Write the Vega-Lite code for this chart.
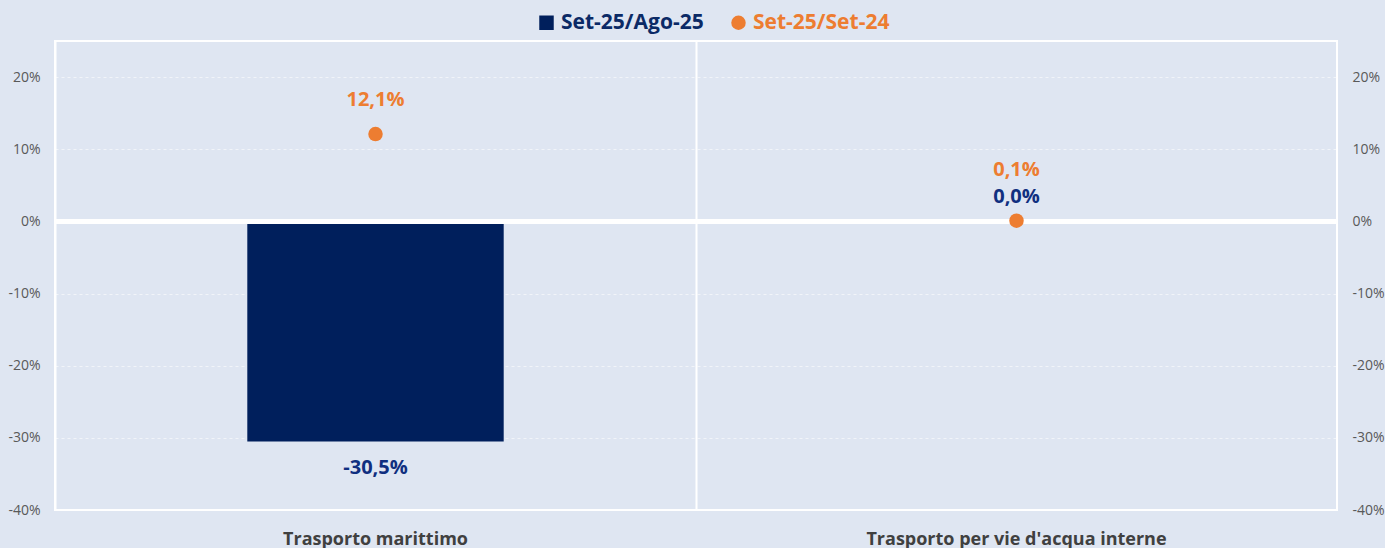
{
  "$schema": "https://vega.github.io/schema/vega-lite/v6.json",
  "width": 1282,
  "height": 469,
  "autosize": {"type": "none"},
  "padding": {"left": 55, "top": 41, "right": 48, "bottom": 38},
  "background": "#DFE6F2",
  "config": {
    "locale": {"number": {"decimal": ",", "thousands": ".", "grouping": [3], "currency": ["", " €"], "minus": "-"}},
    "view": {"fill": "#DFE6F2", "stroke": "#FFFFFF", "strokeWidth": 2},
    "font": "Open Sans"
  },
  "data": {
    "values": [
      {"cat": "Trasporto marittimo", "series": "Set-25/Ago-25", "value": -0.305},
      {"cat": "Trasporto per vie d'acqua interne", "series": "Set-25/Ago-25", "value": 0.0},
      {"cat": "Trasporto marittimo", "series": "Set-25/Set-24", "value": 0.121},
      {"cat": "Trasporto per vie d'acqua interne", "series": "Set-25/Set-24", "value": 0.001}
    ]
  },
  "encoding": {
    "x": {
      "field": "cat", "type": "nominal", "sort": null,
      "scale": {"paddingInner": 0, "paddingOuter": 0},
      "axis": {
        "title": null, "labelAngle": 0, "domain": false, "ticks": false,
        "labelFontSize": 18, "labelFontWeight": "bold", "labelColor": "#404040",
        "labelPadding": 20, "labelFont": "Open Sans", "labelLimit": 0,
        "grid": true, "bandPosition": 0, "gridColor": "#FFFFFF", "gridWidth": 2, "gridOpacity": 1
      }
    }
  },
  "layer": [
    {
      "transform": [{"filter": "datum.series === 'Set-25/Ago-25'"}],
      "mark": {"type": "bar", "width": {"band": 0.4}},
      "encoding": {
        "y": {
          "field": "value", "type": "quantitative",
          "scale": {"domain": [-0.4, 0.25], "nice": false, "zero": false},
          "axis": {
            "title": null, "format": ".0%", "values": [-0.4, -0.3, -0.2, -0.1, 0, 0.1, 0.2],
            "domain": false, "ticks": false, "labelFontSize": 14, "labelColor": "#595959",
            "labelPadding": 15, "grid": true, "gridColor": "#FFFFFF", "gridOpacity": 0.55,
            "gridDash": [3, 3], "gridWidth": 1, "orient": "left"
          }
        },
        "color": {
          "field": "series", "type": "nominal",
          "scale": {"domain": ["Set-25/Ago-25", "Set-25/Set-24"], "range": ["#001F5C", "#ED7D31"]},
          "legend": {
            "title": null, "orient": "none", "legendX": 481, "legendY": -29,
            "direction": "horizontal", "labelFontSize": 21, "labelFontWeight": "bold",
            "labelFont": "Open Sans", "symbolSize": 210, "symbolStrokeWidth": 0,
            "columnPadding": 24, "labelOffset": 4,
            "encode": {
              "labels": {"update": {"fill": {"signal": "datum.value === 'Set-25/Ago-25' ? '#0B2A66' : '#ED7D31'"}}},
              "symbols": {"update": {
                "shape": {"signal": "datum.value === 'Set-25/Ago-25' ? 'square' : 'circle'"},
                "fill": {"signal": "datum.value === 'Set-25/Ago-25' ? '#001F5C' : '#ED7D31'"},
                "fillOpacity": {"value": 1}
              }}
            }
          }
        }
      }
    },
    {
      "mark": {"type": "rule", "color": "#FFFFFF", "strokeWidth": 5},
      "encoding": {"y": {"datum": 0, "type": "quantitative", "axis": null}, "x": {"value": 0}, "x2": {"value": 1282}}
    },
    {
      "transform": [{"filter": "datum.series === 'Set-25/Set-24'"}],
      "mark": {"type": "circle", "size": 210, "opacity": 1, "color": "#ED7D31"},
      "encoding": {
        "y": {
          "field": "value", "type": "quantitative",
          "axis": {
            "title": null, "format": ".0%", "values": [-0.4, -0.3, -0.2, -0.1, 0, 0.1, 0.2],
            "domain": false, "ticks": false, "labelFontSize": 14, "labelColor": "#595959",
            "labelPadding": 15, "grid": false, "orient": "right"
          }
        }
      }
    },
    {
      "transform": [{"filter": "datum.series === 'Set-25/Ago-25' && datum.value < 0"}],
      "mark": {"type": "text", "dy": 27, "fontSize": 20, "fontWeight": "bold", "color": "#102F80", "baseline": "middle"},
      "encoding": {"y": {"field": "value", "type": "quantitative", "axis": null}, "text": {"field": "value", "type": "quantitative", "format": ".1%"}}
    },
    {
      "transform": [{"filter": "datum.series === 'Set-25/Ago-25' && datum.value >= 0"}],
      "mark": {"type": "text", "dy": -24, "fontSize": 20, "fontWeight": "bold", "color": "#102F80", "baseline": "middle"},
      "encoding": {"y": {"field": "value", "type": "quantitative", "axis": null}, "text": {"field": "value", "type": "quantitative", "format": ".1%"}}
    },
    {
      "transform": [{"filter": "datum.series === 'Set-25/Set-24' && datum.cat === 'Trasporto marittimo'"}],
      "mark": {"type": "text", "dy": -34, "fontSize": 20, "fontWeight": "bold", "color": "#ED7D31", "baseline": "middle"},
      "encoding": {"y": {"field": "value", "type": "quantitative", "axis": null}, "text": {"field": "value", "type": "quantitative", "format": ".1%"}}
    },
    {
      "transform": [{"filter": "datum.series === 'Set-25/Set-24' && datum.cat !== 'Trasporto marittimo'"}],
      "mark": {"type": "text", "dy": -51, "fontSize": 20, "fontWeight": "bold", "color": "#ED7D31", "baseline": "middle"},
      "encoding": {"y": {"field": "value", "type": "quantitative", "axis": null}, "text": {"field": "value", "type": "quantitative", "format": ".1%"}}
    }
  ],
  "resolve": {"axis": {"y": "independent"}}
}
